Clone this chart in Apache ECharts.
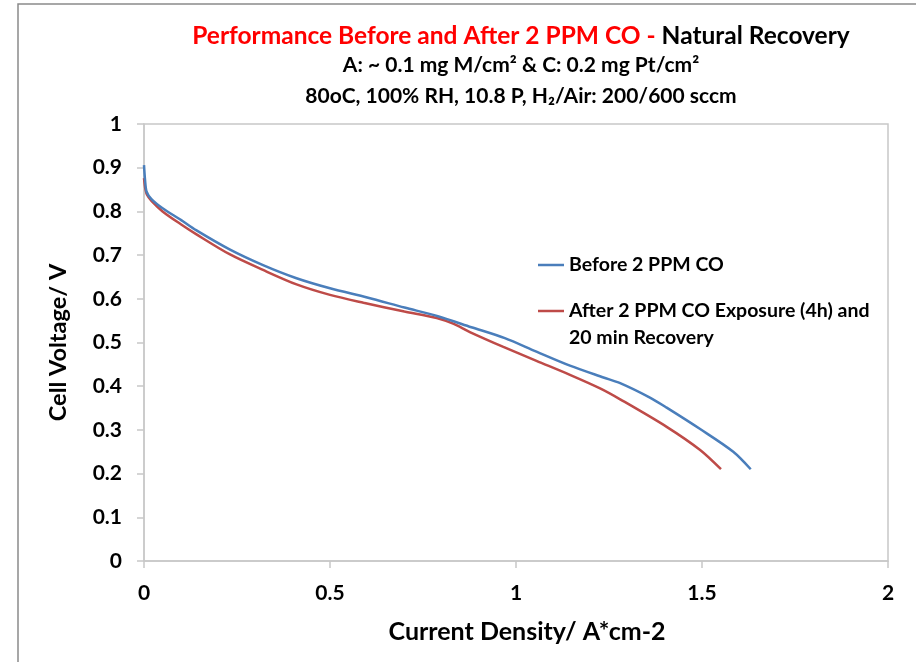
<!DOCTYPE html>
<html><head><meta charset="utf-8">
<script src="https://cdn.jsdelivr.net/npm/echarts@6/dist/echarts.min.js"></script>
<style>html,body{margin:0;padding:0;background:#fff}#c{width:916px;height:662px}</style>
</head><body><div id="c"></div>
<script>
const beforeName = 'Before 2 PPM CO';
const afterName = 'After 2 PPM CO Exposure (4h) and\n20 min Recovery';
const beforeX = [0, 0.003, 0.007, 0.02, 0.05, 0.1, 0.14, 0.23, 0.32, 0.41, 0.5, 0.6, 0.7, 0.79, 0.88, 0.97, 1.055, 1.145, 1.235, 1.28, 1.36, 1.405, 1.495, 1.584, 1.631];
const beforeV = [0.906, 0.87, 0.845, 0.828, 0.807, 0.78, 0.757, 0.713, 0.677, 0.647, 0.624, 0.603, 0.58, 0.56, 0.535, 0.51, 0.479, 0.447, 0.42, 0.407, 0.374, 0.351, 0.302, 0.25, 0.21];
const afterX = [0, 0.002, 0.004, 0.008, 0.02, 0.05, 0.1, 0.14, 0.23, 0.32, 0.41, 0.5, 0.59, 0.7, 0.787, 0.831, 0.876, 0.966, 1.055, 1.145, 1.226, 1.28, 1.405, 1.495, 1.551];
const afterV = [0.876, 0.86, 0.85, 0.838, 0.824, 0.80, 0.77, 0.748, 0.702, 0.666, 0.633, 0.609, 0.591, 0.571, 0.556, 0.543, 0.524, 0.49, 0.458, 0.426, 0.395, 0.37, 0.307, 0.254, 0.21];

const F = 'Lato, "Open Sans", sans-serif';
const pairs = (xs, ys) => xs.map((x, i) => [x, ys[i]]);
const legendText = {color: '#000', fontSize: 19.5, fontWeight: 'bold', fontFamily: F, lineHeight: 27};

const chart = echarts.init(document.getElementById('c'));
chart.setOption({
  animation: false,
  backgroundColor: '#fff',
  graphic: [{
    type: 'rect', shape: {x: 18, y: 4, width: 1000, height: 800},
    style: {fill: 'none', stroke: '#8a8a8a', lineWidth: 1.5}, silent: true
  }],
  title: [
    {text: '{r|Performance Before and After 2 PPM CO - }{k|Natural Recovery}', left: 516, top: 19, textAlign: 'center',
     textStyle: {rich: {r: {color: '#ff0000', fontSize: 24.5, fontWeight: 'bold', fontFamily: F}, k: {color: '#000', fontSize: 24.5, fontWeight: 'bold', fontFamily: F}}}},
    {text: 'A: ~ 0.1 mg M/cm² & C: 0.2 mg Pt/cm²', left: 516, top: 50, textAlign: 'center',
     textStyle: {color: '#000', fontSize: 21, fontWeight: 'bold', fontFamily: F}},
    {text: '80oC, 100% RH, 10.8 P, H₂/Air: 200/600 sccm', left: 516, top: 81, textAlign: 'center',
     textStyle: {color: '#000', fontSize: 21, fontWeight: 'bold', fontFamily: F}}
  ],
  grid: {left: 144, top: 124, right: 28, bottom: 101, show: true, borderColor: '#c8c8c8', borderWidth: 1.5},
  legend: [
    {orient: 'vertical', left: 538, top: 251.5, padding: 0, itemWidth: 26, itemHeight: 2.5, icon: 'rect',
     textStyle: legendText, data: [beforeName]},
    {orient: 'vertical', left: 538, top: 270.5, padding: 0, itemWidth: 26, itemHeight: 2.5, icon: 'rect',
     textStyle: legendText, data: [afterName], formatter: n => '\n' + n}
  ],
  xAxis: {
    type: 'value', min: 0, max: 2, interval: 0.5,
    name: 'Current Density/ A*cm-2', nameLocation: 'middle', nameGap: 58,
    nameTextStyle: {color: '#000', fontSize: 25, fontWeight: 'bold', fontFamily: F, padding: [0, 0, 0, 22]},
    axisLine: {show: true, lineStyle: {color: '#c8c8c8', width: 1.5}},
    axisTick: {show: true, length: 7, lineStyle: {color: '#c8c8c8', width: 1.5}},
    axisLabel: {color: '#000', fontSize: 21, fontWeight: 'bold', fontFamily: F, margin: 22},
    splitLine: {show: false}
  },
  yAxis: {
    type: 'value', min: 0, max: 1, interval: 0.1,
    name: 'Cell Voltage/ V', nameLocation: 'middle', nameGap: 74,
    nameMoveOverlap: false,
    nameTextStyle: {color: '#000', fontSize: 23.5, fontWeight: 'bold', fontFamily: F},
    axisLine: {show: true, lineStyle: {color: '#c8c8c8', width: 1.5}},
    axisTick: {show: true, length: 7, lineStyle: {color: '#c8c8c8', width: 1.5}},
    axisLabel: {color: '#000', fontSize: 21, fontWeight: 'bold', fontFamily: F, margin: 22},
    splitLine: {show: false}
  },
  series: [
    {name: beforeName, type: 'line', data: pairs(beforeX, beforeV), smooth: 0.3, symbol: 'none',
     lineStyle: {color: '#4a7ebb', width: 2.5}, itemStyle: {color: '#4a7ebb'}, z: 3},
    {name: afterName, type: 'line', data: pairs(afterX, afterV), smooth: 0.3, symbol: 'none',
     lineStyle: {color: '#be4b48', width: 2.5}, itemStyle: {color: '#be4b48'}, z: 2}
  ]
});
</script></body></html>
